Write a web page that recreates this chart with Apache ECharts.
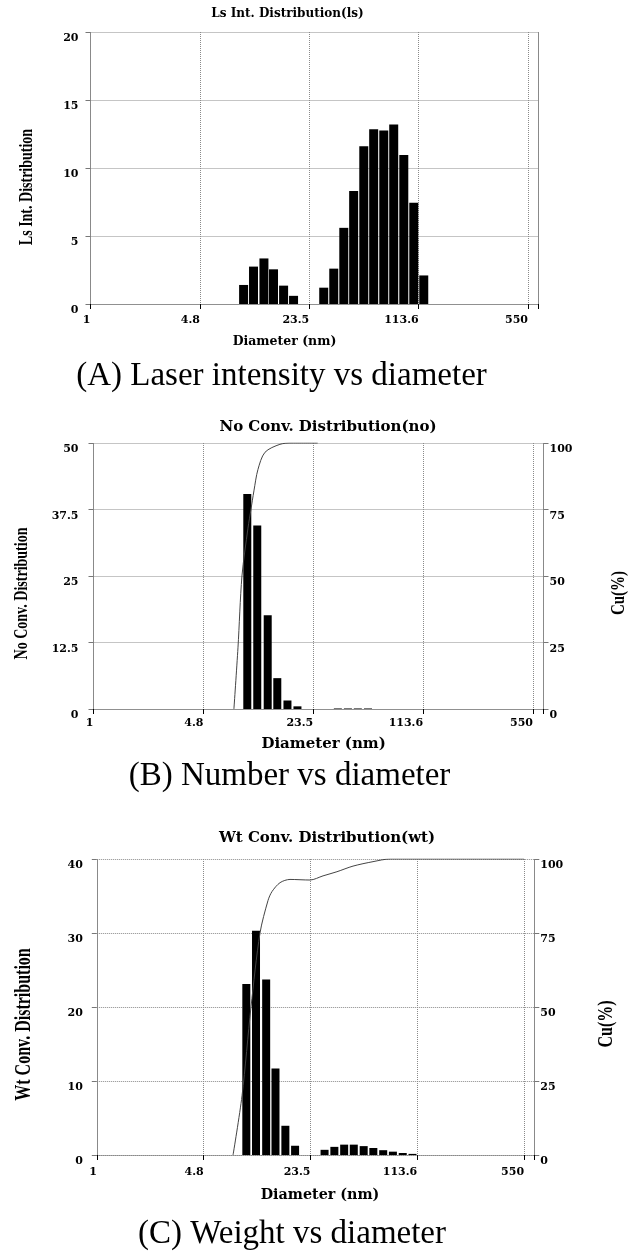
<!DOCTYPE html>
<html>
<head>
<meta charset="utf-8">
<script src="https://cdn.jsdelivr.net/npm/echarts@6/dist/echarts.min.js"></script>
<style>
  html, body { margin: 0; padding: 0; background: #fff; }
  #chart { width: 632px; height: 1251px; }
</style>
</head>
<body>
<div id="chart"></div>
<script>
// bin centres (nm), shared by the three distributions
const diameters = [9.1, 10.5, 12.2, 14.0, 16.2, 18.7, 21.6, 25.0, 28.9, 33.4, 38.6, 44.5, 51.5, 59.4, 68.7, 79.3, 91.7, 105.9, 122.3]
const xTickLabels = ['1', '4.8', '23.5', '113.6', '550']

const lsValues = [1.4, 2.75, 3.35, 2.55, 1.35, 0.6, 0, 0, 1.2, 2.6, 5.6, 8.3, 11.6, 12.85, 12.75, 13.2, 10.95, 7.45, 2.1]
const noValues = [40.4, 34.5, 17.6, 5.8, 1.6, 0.5, 0, 0, 0, 0.1, 0.1, 0.1, 0.1]
const wtValues = [23.1, 30.3, 23.7, 11.7, 3.95, 1.25, 0, 0, 0.7, 1.1, 1.4, 1.4, 1.2, 0.95, 0.65, 0.45, 0.27, 0.15]

// cumulative curves [diameter, Cu %]
const noCumulative = [[7.51, 0], [7.96, 23], [8.43, 50], [9.19, 68], [9.59, 75], [10.01, 82], [10.6, 90], [11.73, 96.5], [14.54, 99.5], [17.28, 100], [25, 100]]
const wtCumulative = [[7.48, 0], [8.54, 20], [9.75, 50], [11.14, 75], [12.54, 86], [13.3, 89], [14.97, 92], [17.35, 93.1], [23.3, 92.9], [28.25, 94.3], [34.7, 95.7], [44.0, 97.6], [59.1, 99.1], [76.0, 100], [550, 100]]

const LOG_BASE = Math.pow(550, 0.25)
const TICK_FONT = 'DejaVu Serif'
const NAME_FONT = 'Liberation Serif'

function pairs(values) {
  let out = []
  values.forEach((v, i) => {
    if (v > 0) out.push([diameters[i], v])
  })
  return out
}

const chart = echarts.init(document.getElementById('chart'))

const grids = [
  { left: 90.5, top: 32, width: 448, height: 272 },
  { left: 93.5, top: 443, width: 450, height: 266 },
  { left: 96.8, top: 859, width: 437.5, height: 296 }
]

const dotted = { color: '#8a8a8a', type: 'dotted', width: 1 }

function xAxis(gridIndex, margin) {
  return {
    type: 'log',
    gridIndex: gridIndex,
    logBase: LOG_BASE,
    min: 1,
    max: 640,
    interval: 1,
    axisLine: { show: true, lineStyle: dotted },
    axisTick: { show: true, length: 5, lineStyle: { color: '#000', width: 1 } },
    splitLine: { show: true, lineStyle: dotted },
    axisLabel: {
      margin: margin,
      align: 'right',
      fontFamily: TICK_FONT,
      fontWeight: 'bold',
      fontSize: 11,
      color: '#000',
      formatter: (v, i) => xTickLabels[i] || ''
    }
  }
}

function yAxis(gridIndex, max, interval, position, margin, showLabel) {
  return {
    type: 'value',
    gridIndex: gridIndex,
    position: position,
    min: 0,
    max: max,
    interval: interval,
    axisLine: { show: true, lineStyle: dotted },
    axisTick: { show: showLabel, length: 5, lineStyle: { color: '#777' } },
    splitLine: { show: position === 'left', lineStyle: dotted },
    axisLabel: {
      show: showLabel,
      margin: margin,
      verticalAlign: 'top',
      padding: [1, 0, 0, 0],
      fontFamily: TICK_FONT,
      fontWeight: 'bold',
      fontSize: 11,
      color: '#000'
    }
  }
}

function label(text, x, y, font, opts) {
  opts = opts || {}
  return {
    type: 'text',
    x: x,
    y: y,
    rotation: opts.rotate ? Math.PI / 2 : 0,
    scaleY: opts.stretch || 1,
    style: {
      text: text,
      font: font,
      fill: '#000',
      align: 'center',
      verticalAlign: 'middle',
      textAlign: 'center',
      textVerticalAlign: 'middle'
    }
  }
}

const option = {
  animation: false,
  backgroundColor: '#fff',
  grid: grids,
  xAxis: [xAxis(0, 11), xAxis(1, 9), xAxis(2, 12)],
  yAxis: [
    yAxis(0, 20, 5, 'left', 12, true),
    yAxis(0, 20, 5, 'right', 6, false),
    yAxis(1, 50, 12.5, 'left', 15, true),
    yAxis(1, 100, 25, 'right', 6, true),
    yAxis(2, 40, 10, 'left', 14, true),
    yAxis(2, 100, 25, 'right', 6, true)
  ],
  series: [
    {
      type: 'bar', xAxisIndex: 0, yAxisIndex: 0, barWidth: 9,
      itemStyle: { color: '#000' }, data: pairs(lsValues)
    },
    {
      type: 'bar', xAxisIndex: 1, yAxisIndex: 2, barWidth: 8,
      itemStyle: { color: '#000' }, data: pairs(noValues)
    },
    {
      type: 'line', xAxisIndex: 1, yAxisIndex: 3, symbol: 'none', smooth: 0.3, z: 5,
      lineStyle: { color: '#444', width: 1 }, data: noCumulative
    },
    {
      type: 'bar', xAxisIndex: 2, yAxisIndex: 4, barWidth: 8,
      itemStyle: { color: '#000' }, data: pairs(wtValues)
    },
    {
      type: 'line', xAxisIndex: 2, yAxisIndex: 5, symbol: 'none', smooth: 0.3, z: 5,
      lineStyle: { color: '#444', width: 1 }, data: wtCumulative
    }
  ],
  graphic: [
    // panel titles
    label('Ls Int. Distribution(ls)', 287.5, 13.5, 'bold 12px "DejaVu Serif"'),
    label('No Conv. Distribution(no)', 328, 427, 'bold 15px "DejaVu Serif"'),
    label('Wt Conv. Distribution(wt)', 327, 838.5, 'bold 15px "DejaVu Serif"'),
    // x axis names
    label('Diameter (nm)', 284.5, 342, 'bold 12.5px "DejaVu Serif"'),
    label('Diameter (nm)', 323.6, 744, 'bold 15px "DejaVu Serif"'),
    label('Diameter (nm)', 320, 1195, 'bold 14.3px "DejaVu Serif"'),
    // y axis names
    label('Ls Int. Distribution', 27, 187, 'bold 14px "Liberation Serif"', { rotate: true, stretch: 1.4 }),
    label('No Conv. Distribution', 22, 593.5, 'bold 14px "Liberation Serif"', { rotate: true, stretch: 1.4 }),
    label('Wt Conv. Distribution', 24, 1024.5, 'bold 16px "Liberation Serif"', { rotate: true, stretch: 1.4 }),
    label('Cu(%)', 619, 593, 'bold 15px "Liberation Serif"', { rotate: true, stretch: 1.3 }),
    label('Cu(%)', 607, 1024, 'bold 16px "Liberation Serif"', { rotate: true, stretch: 1.3 }),
    // captions
    label('(A) Laser intensity vs diameter', 281.5, 376, '33px "Liberation Serif"'),
    label('(B) Number vs diameter', 289.5, 776, '33px "Liberation Serif"'),
    label('(C) Weight vs diameter', 292, 1234, '33px "Liberation Serif"')
  ]
}

chart.setOption(option)
</script>
</body>
</html>
